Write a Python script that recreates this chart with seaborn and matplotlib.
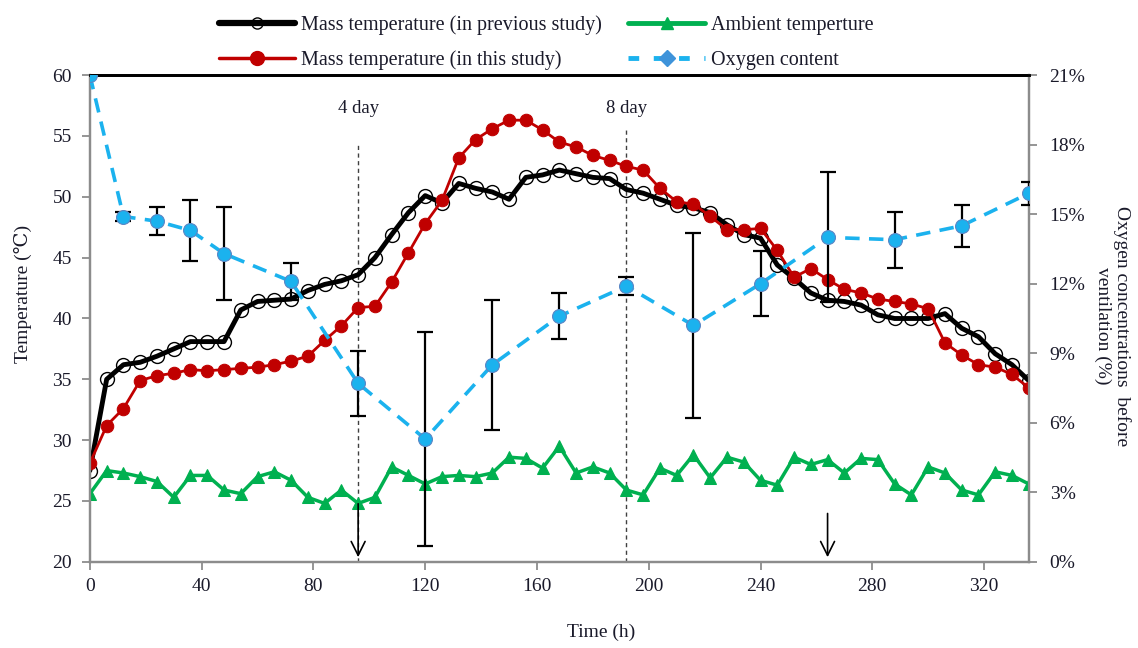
import numpy as np
import pandas as pd
import matplotlib
matplotlib.use("Agg")
import matplotlib.pyplot as plt
from matplotlib.lines import Line2D
import seaborn as sns

# ---------------- data ----------------
time_h = list(range(0, 337, 6))

temp_previous = [27.5, 35.0, 36.2, 36.4, 36.9, 37.5, 38.1, 38.1, 38.1, 40.7,
                 41.4, 41.5, 41.6, 42.3, 42.8, 43.1, 43.6, 45.0, 46.9, 48.7,
                 50.1, 49.5, 51.1, 50.7, 50.4, 49.8, 51.6, 51.8, 52.2, 51.9,
                 51.6, 51.5, 50.6, 50.3, 49.8, 49.3, 49.1, 48.7, 47.7, 46.9,
                 46.6, 44.4, 43.3, 42.1, 41.5, 41.4, 41.1, 40.3, 40.0, 40.0,
                 40.0, 40.4, 39.2, 38.5, 37.1, 36.2, 34.9]

temp_this = [28.1, 31.2, 32.6, 34.9, 35.3, 35.5, 35.8, 35.7, 35.8, 35.9,
             36.0, 36.2, 36.5, 36.9, 38.2, 39.4, 40.9, 41.0, 43.0, 45.4,
             47.8, 49.7, 53.2, 54.7, 55.6, 56.3, 56.3, 55.5, 54.5, 54.1,
             53.4, 53.0, 52.5, 52.2, 50.7, 49.6, 49.4, 48.4, 47.3, 47.3,
             47.4, 45.6, 43.4, 44.1, 43.2, 42.4, 42.1, 41.6, 41.4, 41.2,
             40.8, 38.0, 37.0, 36.2, 36.0, 35.4, 34.3]

temp_ambient = [25.6, 27.5, 27.3, 27.0, 26.6, 25.3, 27.1, 27.1, 25.9, 25.6,
                27.0, 27.4, 26.7, 25.3, 24.8, 25.9, 24.8, 25.3, 27.8, 27.1,
                26.4, 27.0, 27.1, 27.0, 27.3, 28.6, 28.5, 27.7, 29.5, 27.3,
                27.8, 27.3, 25.9, 25.5, 27.7, 27.1, 28.8, 26.9, 28.6, 28.2,
                26.7, 26.3, 28.6, 28.0, 28.4, 27.3, 28.5, 28.4, 26.4, 25.5,
                27.8, 27.3, 25.9, 25.5, 27.4, 27.1, 26.4]

o2_time = [0, 12, 24, 36, 48, 72, 96, 120, 144, 168, 192, 216, 240, 264, 288, 312, 336]
o2_content = [21.0, 14.9, 14.7, 14.3, 13.3, 12.1, 7.7, 5.3, 8.5, 10.6, 11.9,
              10.2, 12.0, 14.0, 13.9, 14.5, 15.9]
o2_error = [0.0, 0.2, 0.6, 1.3, 2.0, 0.8, 1.4, 4.6, 2.8, 1.0, 0.4,
            4.0, 1.4, 2.8, 1.2, 0.9, 0.5]

x_ticks = [0, 40, 80, 120, 160, 200, 240, 280, 320]
y_ticks = [20, 25, 30, 35, 40, 45, 50, 55, 60]
y2_ticks = [0, 3, 6, 9, 12, 15, 18, 21]

legend_labels = ["Mass temperature (in previous study)",
                 "Mass temperature (in this study)",
                 "Ambient temperture",
                 "Oxygen content"]

# ---------------- style ----------------
sns.set_style("white")
SERIF = ["Liberation Serif", "DejaVu Serif", "Noto Sans CJK SC"]
plt.rcParams["font.family"] = SERIF
plt.rcParams["font.size"] = 14
TXT = "#1A1A2A"

RED = "#C00000"
GREEN = "#00B050"
BLUE = "#1BB2EE"
GREY = "#8C8C8C"

fig = plt.figure(figsize=(11.38, 6.48), dpi=100)
ax = fig.add_axes([0.079, 0.133, 0.825, 0.751])

df_t = pd.DataFrame({"t": time_h, "prev": temp_previous,
                     "this": temp_this, "amb": temp_ambient})
df_o = pd.DataFrame({"t": o2_time, "o2": o2_content})

sns.lineplot(data=df_t, x="t", y="amb", ax=ax, color=GREEN, lw=2.5,
             marker="^", markersize=9, markerfacecolor=GREEN,
             markeredgecolor=GREEN, legend=False, zorder=3)
sns.lineplot(data=df_t, x="t", y="prev", ax=ax, color="black", lw=3.5,
             marker="o", markersize=10, markerfacecolor="none",
             markeredgecolor="black", markeredgewidth=1.0, legend=False, zorder=4)
sns.lineplot(data=df_t, x="t", y="this", ax=ax, color=RED, lw=2,
             marker="o", markersize=9, markerfacecolor=RED,
             markeredgecolor=RED, legend=False, zorder=5)

# day markers
ax.plot([96, 96], [20, 54.4], color="#404040", lw=1, dashes=(3, 2.5), zorder=2)
ax.plot([192, 192], [20, 55.5], color="#404040", lw=1, dashes=(3, 2.5), zorder=2)
ax.text(96, 57.3, "4 day", ha="center", va="center", fontsize=13.5, color=TXT)
ax.text(192, 57.3, "8 day", ha="center", va="center", fontsize=13.5, color=TXT)
for xa, ys in [(96, 25.0), (264, 24.2)]:
    ax.annotate("", xy=(xa, 20.15), xytext=(xa, ys),
                arrowprops=dict(arrowstyle="->,head_length=1.0,head_width=0.5",
                                mutation_scale=10, color="black", lw=1.2),
                zorder=6)

ax.set_xlim(0, 336)
ax.set_ylim(20, 60)
ax.set_xticks(x_ticks)
ax.set_yticks(y_ticks)
ax.set_xlabel("Time (h)", fontsize=14, color=TXT)
ax.xaxis.set_label_coords(0.545, -0.127)
ax.set_ylabel("Temperature (℃)", fontsize=14, color=TXT, family=SERIF)
ax.yaxis.set_label_coords(-0.062, 0.55)

# oxygen axis
ax2 = ax.twinx()
ax2.errorbar(o2_time, o2_content, yerr=o2_error, fmt="none", ecolor="black",
             elinewidth=1.6, capsize=6, capthick=1.6, zorder=3)
sns.lineplot(data=df_o, x="t", y="o2", ax=ax2, color=BLUE, lw=2.6,
             linestyle=(0, (4, 2.6)), marker="o", markersize=10,
             markerfacecolor=BLUE, markeredgecolor="#5B86C5",
             markeredgewidth=0.8, legend=False, zorder=4)
ax2.set_ylim(0, 21)
ax2.set_yticks(y2_ticks)
ax2.set_yticklabels([f"{v}%" for v in y2_ticks])
ax2.set_xlim(0, 336)
ax2.set_ylabel("Oxygen concentrations  before\nventilation (%)", rotation=270,
               fontsize=14, color=TXT, linespacing=1.1, va="center")
ax2.yaxis.set_label_coords(1.089, 0.485)

# spines and ticks
for a in (ax, ax2):
    for s in ("left", "right", "bottom"):
        a.spines[s].set_color(GREY)
        a.spines[s].set_linewidth(1.6)
    a.spines["top"].set_color("black")
    a.spines["top"].set_linewidth(2)
ax.tick_params(axis="both", direction="out", length=6, width=1.3, color=GREY,
               labelsize=14, labelcolor=TXT, left=True, bottom=True)
ax.tick_params(axis="y", pad=7)
ax.tick_params(axis="x", pad=6)
ax2.tick_params(axis="y", direction="out", length=6, width=1.3, color=GREY,
                labelsize=14, labelcolor=TXT, right=True, pad=9)

# legend
handles = [
    Line2D([], [], color="black", lw=4.5, marker="o", markersize=8,
           markerfacecolor="none", markeredgecolor="black"),
    Line2D([], [], color=RED, lw=2.5, marker="o", markersize=10,
           markerfacecolor=RED, markeredgecolor=RED),
    Line2D([], [], color=GREEN, lw=3.5, marker="^", markersize=8,
           markerfacecolor=GREEN, markeredgecolor=GREEN),
    Line2D([], [], color=BLUE, lw=3.5, linestyle=(0, (2.2, 3.0)), marker="D",
           markersize=8, markerfacecolor="#3E93DA", markeredgecolor="#3E93DA"),
]
fig.legend(handles, legend_labels, ncol=2, loc="upper center",
           bbox_to_anchor=(0.48, 1.005), frameon=False, fontsize=14.5,
           handlelength=3.8, labelspacing=0.8, columnspacing=1.3,
           handletextpad=0.3, labelcolor=TXT)

fig.savefig("out.png", dpi=100)
